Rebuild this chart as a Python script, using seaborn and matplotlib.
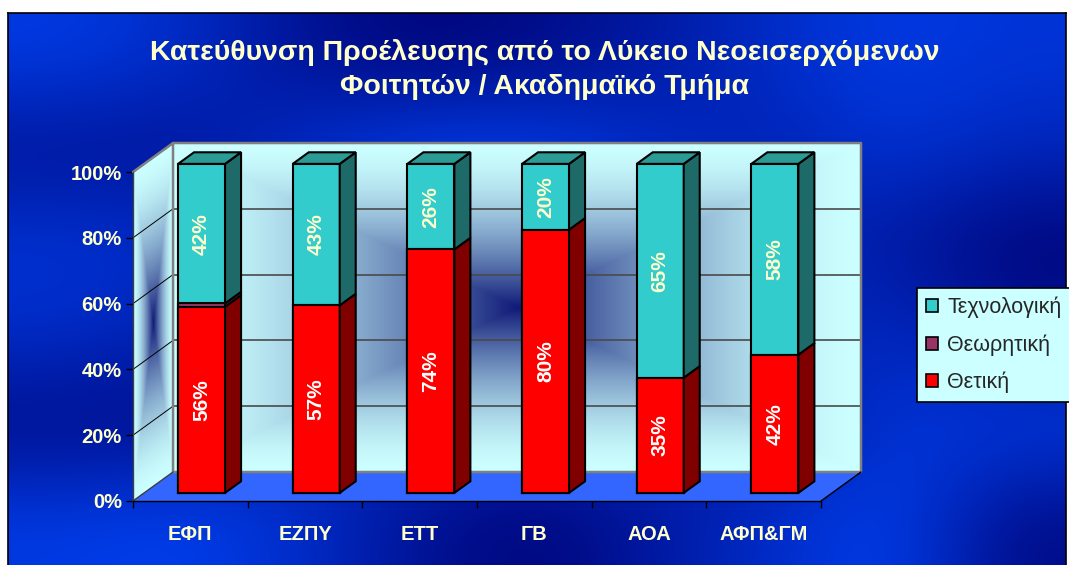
import numpy as np
import pandas as pd
import seaborn as sns
import matplotlib.pyplot as plt
from matplotlib.patches import Polygon, Patch
from matplotlib.colors import to_rgb, LinearSegmentedColormap

# Data (raw percentages per department)
categories = ['ΕΦΠ', 'ΕΖΠΥ', 'ΕΤΤ', 'ΓΒ', 'ΑΟΑ', 'ΑΦΠ&ΓΜ']
thetiki = [56, 57, 74, 80, 35, 42]
theoritiki = [1, 0, 0, 0, 0, 0]
technologiki = [42, 43, 26, 20, 65, 58]
series_names = ['Τεχνολογική', 'Θεωρητική', 'Θετική']
y_ticks = [0, 20, 40, 60, 80, 100]
title = 'Κατεύθυνση Προέλευσης από το Λύκειο Νεοεισερχόμενων\nΦοιτητών / Ακαδημαϊκό Τμήμα'

# colours: front face, side face
front = {'Θετική': '#FF0000', 'Θεωρητική': '#993366', 'Τεχνολογική': '#33CCCC'}
side = {'Θετική': '#800000', 'Θεωρητική': '#6B2448', 'Τεχνολογική': '#1D6A68'}
top_col = '#2A9B95'
txt_col = '#FFFFCC'

sns.set_style('white')
plt.rcParams['font.family'] = ['Liberation Sans', 'DejaVu Sans']

# 100% stacked -> shares of each row
df = pd.DataFrame({'cat': categories, 'Θετική': thetiki,
                   'Θεωρητική': theoritiki, 'Τεχνολογική': technologiki})
share = df[series_names].div(df[series_names].sum(axis=1), axis=0) * 100
df['Θετική_top'] = share['Θετική']
df['Θεωρητική_top'] = df['Θετική_top'] + share['Θεωρητική']
df['Τεχνολογική_top'] = df['Θεωρητική_top'] + share['Τεχνολογική']

W, H = 1069, 565
fig = plt.figure(figsize=(W / 100, H / 100), dpi=100)
fig.patch.set_facecolor('white')

# textured blue background
bg = fig.add_axes([8 / W, 0, (W - 11) / W, (H - 13) / H])
bg.set_zorder(-10)
shade = np.array([
    [0.8, 0.6, 0.2, 0.0, 0.1, 0.3, 0.6, 0.8, 0.7],
    [0.2, 0.2, 0.6, 0.9, 0.9, 0.6, 0.4, 0.7, 0.5],
    [0.7, 0.6, 0.5, 0.5, 0.5, 0.5, 0.5, 0.3, 0.0],
    [0.6, 0.4, 0.5, 0.5, 0.5, 0.5, 0.4, 0.6, 0.2],
    [0.1, 0.1, 0.5, 0.5, 0.5, 0.5, 0.2, 0.7, 0.8],
    [0.8, 0.9, 0.6, 0.2, 0.0, 0.3, 0.6, 0.9, 0.1],
])
blue_cmap = LinearSegmentedColormap.from_list('bg', ['#000478', '#0048FF'])
bg.imshow(shade, cmap=blue_cmap, vmin=0, vmax=1, aspect='auto',
          interpolation='bicubic', extent=[0, 1, 0, 1], origin='upper')
bg.set_xlim(0, 1)
bg.set_ylim(0, 1)
bg.set_xticks([])
bg.set_yticks([])
for s in bg.spines.values():
    s.set_color('black')
    s.set_linewidth(1.2)
bg.spines['bottom'].set_visible(False)

# main axes = front plane of the 3D box
ax = fig.add_axes([133 / W, 64 / H, 688 / W, 329 / H])
ax.set_facecolor('none')

DX, DY = 0.349, 8.81    # depth vector of the box (data units)
F = 0.28                # depth at which bar fronts sit
BD = 0.40               # bar depth
x_lo, x_hi = -0.5, len(categories) - 0.5

light = np.array(to_rgb('#CCFFFF'))
dark = np.array(to_rgb('#101A78'))

# back wall: rectangular gradient from centre
n = 300
uu, vv = np.meshgrid(np.linspace(-1, 1, n), np.linspace(-1, 1, n))
t = np.maximum(np.abs(uu), np.abs(vv))
wgt = (1 - t) ** 1.6
wall = light * (1 - wgt[..., None]) + dark * wgt[..., None]
im = ax.imshow(wall, extent=[x_lo + DX, x_hi + DX, DY, 100 + DY], origin='lower',
               aspect='auto', interpolation='bilinear', zorder=0.5)
im.set_clip_on(False)

# left wall (parallelogram), transparent outside
gx, gy = np.meshgrid(np.linspace(0, 1, 60), np.linspace(0, 100 + DY, 400))
hh = gy - gx * DY
inside = (hh >= 0) & (hh <= 100)
tl = np.maximum(np.abs(gx - 0.5) * 2, np.abs(hh - 50) / 50)
wl = np.clip(1 - tl, 0, 1) ** 1.6
lw_img = np.zeros(gx.shape + (4,))
lw_img[..., :3] = light * (1 - wl[..., None]) + dark * wl[..., None]
lw_img[..., 3] = inside.astype(float)
im2 = ax.imshow(lw_img, extent=[x_lo, x_lo + DX, 0, 100 + DY], origin='lower',
                aspect='auto', interpolation='bilinear', zorder=0.5)
im2.set_clip_on(False)

# floor
ax.add_patch(Polygon([(x_lo, 0), (x_hi, 0), (x_hi + DX, DY), (x_lo + DX, DY)],
                     closed=True, facecolor='#3366FF', edgecolor='none',
                     zorder=0.6, clip_on=False))

# gridlines on walls
for v in y_ticks[1:-1]:
    ax.plot([x_lo + DX, x_hi + DX], [v + DY, v + DY], color='#4A4A4A', lw=1.2,
            zorder=0.8, clip_on=False)
    ax.plot([x_lo, x_lo + DX], [v, v + DY], color='black', lw=0.7,
            zorder=0.8, clip_on=False)
grey = '#808080'
ax.plot([x_lo, x_lo + DX, x_hi + DX, x_hi + DX, x_lo + DX, x_lo + DX],
        [100, 100 + DY, 100 + DY, DY, DY, 100 + DY], color=grey, lw=1.8,
        zorder=0.9, clip_on=False)
ax.plot([x_hi, x_hi + DX], [0, DY], color='black', lw=1, zorder=0.9, clip_on=False)
ax.plot([x_lo, x_lo + DX], [0, DY], color='#404040', lw=1, zorder=0.9, clip_on=False)

# bars: draw cumulative tops, tallest first
bars = {}
for name in series_names:
    n0 = len(ax.patches)
    sns.barplot(data=df, x='cat', y=name + '_top', order=categories,
                color=front[name], saturation=1, width=0.41, edgecolor='black',
                linewidth=1.5, errorbar=None, zorder=3, ax=ax)
    bars[name] = ax.patches[n0:]
    for p in bars[name]:
        p.set_x(p.get_x() + F * DX)
        p.set_y(p.get_y() + F * DY)
        p.set_clip_on(False)

ddx, ddy = BD * DX, BD * DY
for i, p in enumerate(bars['Θετική']):
    xl = p.get_x()
    xr = xl + p.get_width()
    lo = 0
    for name in ['Θετική', 'Θεωρητική', 'Τεχνολογική']:
        hi = df.loc[i, name + '_top']
        if hi - lo > 1e-9:
            b, tp = lo + F * DY, hi + F * DY
            ax.add_patch(Polygon([(xr, b), (xr + ddx, b + ddy), (xr + ddx, tp + ddy), (xr, tp)],
                                 closed=True, facecolor=side[name], edgecolor='black',
                                 lw=1.5, zorder=3.1, clip_on=False))
            if name != 'Θεωρητική':
                ax.text((xl + xr) / 2, (b + tp) / 2, f'{df.loc[i, name]:.0f}%',
                        rotation=90, ha='center', va='center', fontsize=15,
                        fontweight='bold', zorder=5,
                        color='white' if name == 'Θετική' else txt_col)
        lo = hi
    T = lo + F * DY
    ax.add_patch(Polygon([(xl, T), (xr, T), (xr + ddx, T + ddy), (xl + ddx, T + ddy)],
                         closed=True, facecolor=top_col, edgecolor='black',
                         lw=1.5, zorder=3.1, clip_on=False))

# axes, ticks
ax.set_xlim(x_lo, x_hi)
ax.set_ylim(0, 100)
ax.set_xlabel('')
ax.set_ylabel('')
ax.set_yticks(y_ticks, labels=[f'{v}%' for v in y_ticks], fontsize=14.5,
              fontweight='bold', color=txt_col)
ax.set_xticks(range(len(categories)), labels=categories, fontsize=14.5,
              fontweight='bold', color=txt_col)
ax.set_xticks(np.arange(x_lo, x_hi + 0.5, 1), minor=True)
ax.tick_params(axis='y', left=True, length=5, width=1, color='black', pad=3)
ax.tick_params(axis='x', which='major', bottom=True, length=0, pad=17)
ax.tick_params(axis='x', which='minor', bottom=True, length=5, width=1, color='black')
for s in ['top', 'right']:
    ax.spines[s].set_visible(False)
ax.spines['bottom'].set_color('black')
ax.spines['bottom'].set_linewidth(1)
ax.spines['left'].set_color('#404040')
ax.spines['left'].set_linewidth(1)

# legend
handles = [Patch(facecolor=front[nm], edgecolor='black', lw=1.2) for nm in series_names]
leg = ax.legend(handles, series_names, loc='center left',
                bbox_to_anchor=(917 / W, (H - 345) / H), bbox_transform=fig.transFigure,
                fontsize=15.5, frameon=True, fancybox=False, framealpha=1,
                facecolor='#CCFFFF', edgecolor='black', handlelength=0.56,
                handleheight=0.56, handletextpad=0.45, labelspacing=0.75,
                borderpad=0.4, borderaxespad=0)
leg.get_frame().set_linewidth(1.2)

fig.text(545 / W, (H - 69) / H, title, ha='center', va='center', fontsize=20.5,
         fontweight='bold', color=txt_col, linespacing=1.4)

fig.savefig('out.png', dpi=100)
